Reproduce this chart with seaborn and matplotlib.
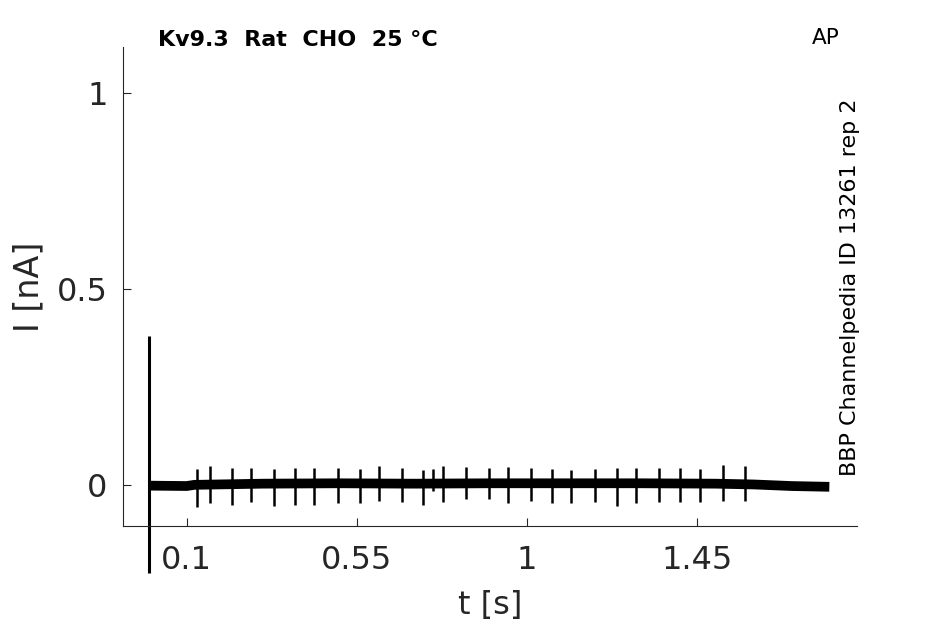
import numpy as np
import pandas as pd
import seaborn as sns
import matplotlib
matplotlib.use("Agg")
import matplotlib.pyplot as plt

base_t = [0.0, 0.1, 0.12, 0.3, 0.5, 0.7, 0.9, 1.1, 1.3, 1.5, 1.6, 1.7, 1.8]
base_i = [-0.002, -0.003, 0.0, 0.003, 0.004, 0.003, 0.004, 0.004, 0.004, 0.003, 0.001, -0.003, -0.005]

# action potential artefacts: time, upper peak, lower peak
spike_t = [0.127, 0.162, 0.219, 0.270, 0.330, 0.386, 0.436, 0.500, 0.558, 0.609,
           0.670, 0.725, 0.751, 0.778, 0.840, 0.899, 0.950, 1.011, 1.065, 1.116,
           1.180, 1.237, 1.288, 1.350, 1.406, 1.458, 1.520, 1.578]
spike_hi = [0.040, 0.048, 0.042, 0.042, 0.041, 0.042, 0.042, 0.042, 0.040, 0.047,
            0.042, 0.038, 0.040, 0.047, 0.045, 0.042, 0.045, 0.042, 0.040, 0.038,
            0.040, 0.042, 0.042, 0.042, 0.043, 0.040, 0.050, 0.047]
spike_lo = [-0.057, -0.045, -0.051, -0.044, -0.053, -0.051, -0.051, -0.047, -0.045, -0.041,
            -0.043, -0.052, -0.015, -0.043, -0.036, -0.036, -0.047, -0.041, -0.045, -0.045,
            -0.044, -0.054, -0.045, -0.044, -0.043, -0.043, -0.041, -0.041]

# capacitive transient at stimulus onset
onset_t = 0.0
onset_lo, onset_hi = -0.225, 0.38

x_ticks = [0.1, 0.55, 1, 1.45]
x_tick_labels = ["0.1", "0.55", "1", "1.45"]
y_ticks = [0, 0.5, 1]
y_tick_labels = ["0", "0.5", "1"]

sns.set_style("ticks", {"xtick.direction": "in", "ytick.direction": "in",
                        "axes.edgecolor": "#262626"})
plt.rcParams["font.family"] = ["DejaVu Sans"]

fig = plt.figure(figsize=(9.45, 6.24), dpi=100)
ax = fig.add_axes([0.130, 0.157, 0.777, 0.768])

base = pd.DataFrame({"t": base_t, "I": base_i})
sns.lineplot(data=base, x="t", y="I", color="black", linewidth=7, ax=ax,
             solid_capstyle="butt")
ax.vlines(spike_t, spike_lo, spike_hi, color="black", linewidth=1.8)
ax.vlines([onset_t], [onset_lo], [onset_hi], color="black", linewidth=2.2,
          clip_on=False)

ax.set_xlim(-0.069, 1.8735)
ax.set_ylim(-0.105, 1.117)
ax.set_xticks(x_ticks)
ax.set_xticklabels(x_tick_labels)
ax.set_yticks(y_ticks)
ax.set_yticklabels(y_tick_labels)
ax.tick_params(axis="both", labelsize=23, length=5.5, width=0.8, colors="#262626")
ax.tick_params(axis="x", pad=14)
ax.tick_params(axis="y", pad=11)
ax.set_xlabel("t [s]", fontsize=23, color="#262626", labelpad=10)
ax.set_ylabel("I [nA]", fontsize=24, color="#262626", labelpad=8)
sns.despine(ax=ax)

fig.text(158 / 945, 1 - 40 / 624, "Kv9.3  Rat  CHO  25 °C", fontsize=16,
         fontweight="bold", ha="left", va="center", color="black")
fig.text(840 / 945, 1 - 38 / 624, "AP", fontsize=15.5, ha="right", va="center",
         color="black")
fig.text(850 / 945, 1 - 287 / 624, "BBP Channelpedia ID 13261 rep 2", fontsize=16,
         rotation=90, ha="center", va="center", color="black")

fig.savefig("out.png", dpi=100)
